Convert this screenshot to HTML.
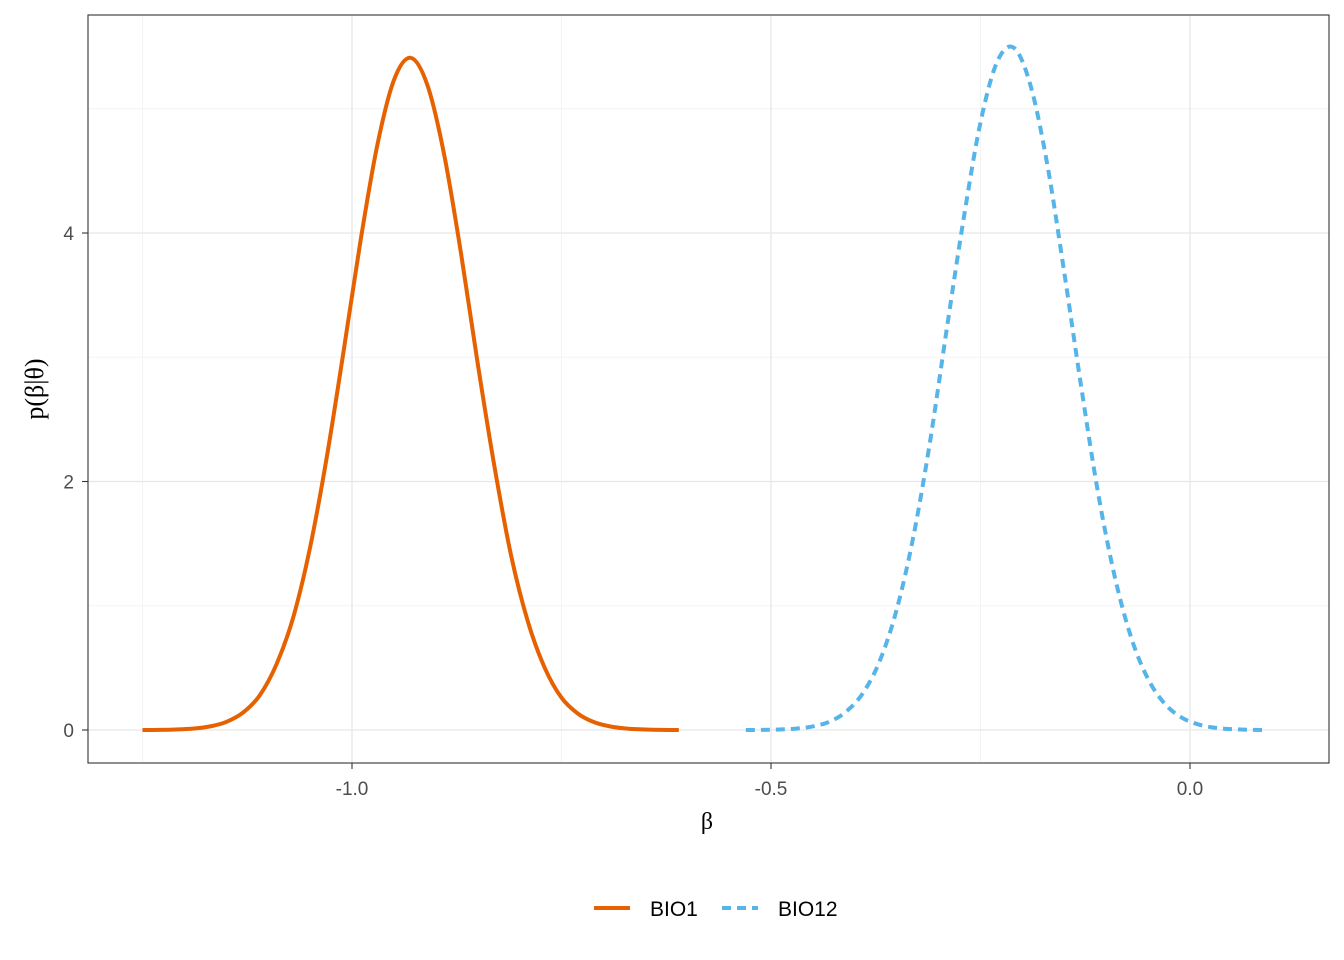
<!DOCTYPE html>
<html><head><meta charset="utf-8"><style>
body{margin:0;background:#fff;}
svg{display:block;font-family:"Liberation Sans",sans-serif;}
</style></head><body>
<svg id="chart" width="1344" height="960" viewBox="0 0 1344 960" xmlns="http://www.w3.org/2000/svg">
<rect width="1344" height="960" fill="#fff"/>
<g id="grid"></g>
<g id="series"></g>
<rect x="88" y="15" width="1241" height="748" fill="none" stroke="#333" stroke-width="1.1"/>
<g id="axes"></g>
<text x="707" y="829" text-anchor="middle" font-family="'Liberation Serif',serif" font-size="24" fill="#000">β</text>
<text transform="translate(43,389) rotate(-90)" text-anchor="middle" font-family="'Liberation Serif',serif" font-size="26" fill="#000">p(β|θ)</text>
<g>
<line x1="594" y1="908" x2="630" y2="908" stroke="#E66100" stroke-width="4"/>
<text x="650" y="916" font-size="21" fill="#000">BIO1</text>
<line x1="722" y1="908" x2="758" y2="908" stroke="#56B4E9" stroke-width="4" stroke-dasharray="9,6"/>
<text x="778" y="916" font-size="21" fill="#000">BIO12</text>
</g>
</svg>
<script>
const bio1X = [-1.25,-1.23,-1.21,-1.19,-1.17,-1.15,-1.13,-1.11,-1.09,-1.07,-1.05,-1.03,-1.01,-0.99,-0.97,-0.95,-0.93,-0.91,-0.89,-0.87,-0.85,-0.83,-0.81,-0.79,-0.77,-0.75,-0.73,-0.71,-0.69,-0.67,-0.65,-0.63,-0.61];
const bio1Y = [0.000,0.001,0.004,0.011,0.028,0.065,0.14,0.28,0.53,0.91,1.47,2.20,3.05,3.93,4.70,5.23,5.41,5.19,4.63,3.84,2.95,2.12,1.40,0.87,0.50,0.26,0.13,0.06,0.026,0.010,0.004,0.001,0.000];
const bio12X = [-0.53,-0.51,-0.49,-0.47,-0.45,-0.43,-0.41,-0.39,-0.37,-0.35,-0.33,-0.31,-0.29,-0.27,-0.25,-0.23,-0.21,-0.19,-0.17,-0.15,-0.13,-0.11,-0.09,-0.07,-0.05,-0.03,-0.01,0.01,0.03,0.05,0.07,0.09];
const bio12Y = [0.000,0.001,0.004,0.011,0.029,0.067,0.15,0.30,0.56,0.97,1.56,2.33,3.24,4.12,4.89,5.38,5.49,5.18,4.54,3.68,2.77,1.92,1.24,0.74,0.41,0.21,0.10,0.045,0.018,0.007,0.002,0.000];
const xTicks = [-1.0,-0.5,0.0];
const xTickLabels = ["-1.0","-0.5","0.0"];
const xMinor = [-1.25,-0.75,-0.25];
const yTicks = [0,2,4];
const yTickLabels = ["0","2","4"];
const yMinor = [1,3,5];

const NS="http://www.w3.org/2000/svg";
function xs(v){return 352+(v+1)*838;}
function ys(v){return 730-v*124.25;}
function mk(tag,attrs,parent){const e=document.createElementNS(NS,tag);for(const k in attrs)e.setAttribute(k,attrs[k]);parent.appendChild(e);return e;}
const grid=document.getElementById('grid'),axes=document.getElementById('axes'),series=document.getElementById('series');
xMinor.forEach(v=>{const l=mk('line',{x1:xs(v),x2:xs(v),y1:15,y2:763,stroke:'#f3f3f3','stroke-width':1},grid);

});
yMinor.forEach(v=>{const l=mk('line',{x1:88,x2:1329,y1:ys(v),y2:ys(v),stroke:'#f3f3f3','stroke-width':1},grid);

});
xTicks.forEach((v,i)=>{const l=mk('line',{x1:xs(v),x2:xs(v),y1:15,y2:763,stroke:'#e6e6e6','stroke-width':1.3},grid);


const t=mk('line',{x1:xs(v),x2:xs(v),y1:763,y2:769,stroke:'#333','stroke-width':1.1},axes);


const tx=mk('text',{x:xs(v),y:795,'text-anchor':'middle','font-size':19,fill:'#4d4d4d'},axes);tx.textContent=xTickLabels[i];

});
yTicks.forEach((v,i)=>{const l=mk('line',{x1:88,x2:1329,y1:ys(v),y2:ys(v),stroke:'#e6e6e6','stroke-width':1.3},grid);


const t=mk('line',{x1:82,x2:88,y1:ys(v),y2:ys(v),stroke:'#333','stroke-width':1.1},axes);


const tx=mk('text',{x:74,y:ys(v)+7,'text-anchor':'end','font-size':19,fill:'#4d4d4d'},axes);tx.textContent=yTickLabels[i];

});
function pathFor(X,Y){const p=X.map((x,i)=>[xs(x),ys(Y[i])]);let d='M'+p[0][0]+','+p[0][1];
for(let i=0;i<p.length-1;i++){const p0=p[Math.max(0,i-1)],p1=p[i],p2=p[i+1],p3=p[Math.min(p.length-1,i+2)];
const c1=[p1[0]+(p2[0]-p0[0])/6,p1[1]+(p2[1]-p0[1])/6],c2=[p2[0]-(p3[0]-p1[0])/6,p2[1]-(p3[1]-p1[1])/6];
d+=' C'+c1[0]+','+c1[1]+' '+c2[0]+','+c2[1]+' '+p2[0]+','+p2[1];}return d;}
const a=mk('path',{d:pathFor(bio1X,bio1Y),fill:'none',stroke:'#E66100','stroke-width':4,'stroke-linejoin':'round'},series);


const b=mk('path',{d:pathFor(bio12X,bio12Y),fill:'none',stroke:'#56B4E9','stroke-width':4,'stroke-dasharray':'9,6'},series);


</script>
</body></html>
